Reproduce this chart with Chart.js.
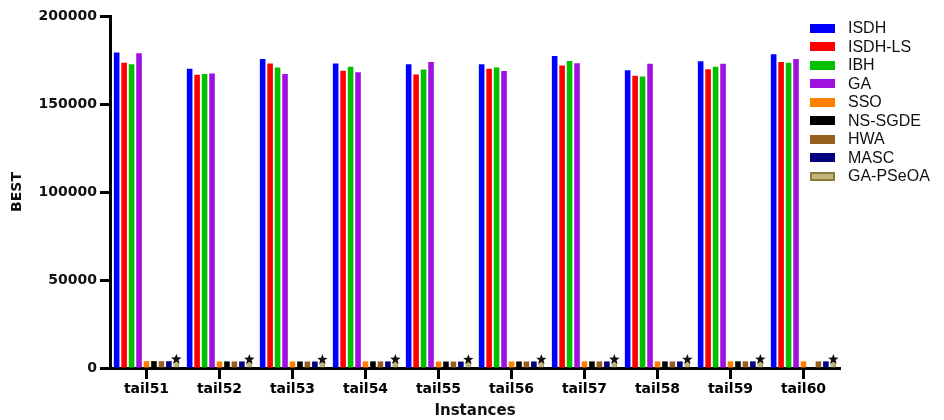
<!DOCTYPE html>
<html>
<head>
<meta charset="utf-8">
<script src="https://cdn.jsdelivr.net/npm/chart.js@4"></script>
<style>
  body { margin: 0; background: #fff; }
  #wrap { position: relative; width: 944px; height: 420px; }
  #legend { position: absolute; left: 810px; top: 19px; font-family: "Liberation Sans", Arial, sans-serif; font-size: 16px; color: #111; }
  #legend div { height: 18.5px; display: flex; align-items: center; white-space: nowrap; }
  #legend span.box { display: inline-block; width: 25px; height: 9px; margin-right: 13px; box-sizing: border-box; }
</style>
</head>
<body>
<div id="wrap">
  <canvas id="barChart" width="944" height="420"></canvas>
  <div id="legend"></div>
</div>
<script>
const instances = ['tail51', 'tail52', 'tail53', 'tail54', 'tail55', 'tail56', 'tail57', 'tail58', 'tail59', 'tail60'];
const yTicks = [0, 50000, 100000, 150000, 200000];

const isdh    = [179200, 170000, 175500, 173000, 172600, 172600, 177300, 169200, 174300, 178300];
const isdhLs  = [173500, 166600, 173000, 168900, 166800, 170000, 171900, 166000, 169800, 173800];
const ibh     = [172600, 167000, 170700, 171200, 169600, 170700, 174500, 165600, 171100, 173500];
const ga      = [178900, 167300, 167100, 168100, 173800, 168800, 173200, 172800, 172800, 175500];
const sso     = [3880, 3740, 3700, 3760, 3660, 3720, 3750, 3740, 3780, 3800];
const nsSgde  = [3900, 3760, 3710, 3770, 3680, 3730, 3760, 3750, 3790, null];
const hwa     = [3870, 3730, 3690, 3750, 3650, 3710, 3740, 3730, 3770, 3790];
const masc    = [3860, 3720, 3680, 3740, 3640, 3700, 3730, 3720, 3760, 3780];
const gaPseoa = [3850, 3704, 3640, 3720, 3610, 3681, 3704, 3691, 3743, 3756];

const series = [
    { label: 'ISDH',     data: isdh,    bg: '#0000ff', border: '#0000ff' },
    { label: 'ISDH-LS',  data: isdhLs,  bg: '#ff0000', border: '#ff0000' },
    { label: 'IBH',      data: ibh,     bg: '#00c000', border: '#00c000' },
    { label: 'GA',       data: ga,      bg: '#a010e0', border: '#a010e0' },
    { label: 'SSO',      data: sso,     bg: '#ff8000', border: '#ff8000' },
    { label: 'NS-SGDE',  data: nsSgde,  bg: '#000000', border: '#000000' },
    { label: 'HWA',      data: hwa,     bg: '#966020', border: '#966020' },
    { label: 'MASC',     data: masc,    bg: '#000080', border: '#000080' },
    { label: 'GA-PSeOA', data: gaPseoa, bg: '#c2b47c', border: '#8c7c3c' }
];

// html legend
const legendEl = document.getElementById('legend');
series.forEach(s => {
    const row = document.createElement('div');
    const box = document.createElement('span');
    box.className = 'box';
    box.style.background = s.bg;
    box.style.border = '2px solid ' + s.border;
    row.appendChild(box);
    row.appendChild(document.createTextNode(s.label));
    legendEl.appendChild(row);
});

// black star on top of the GA-PSeOA bars
const starPlugin = {
    id: 'stars',
    afterDatasetsDraw(chart) {
        const c = chart.ctx;
        const meta = chart.getDatasetMeta(series.length - 1);
        c.save();
        c.fillStyle = '#111';
        meta.data.forEach(bar => {
            const cx = bar.x, cy = bar.y - 2, R = 5.5, r = 2.3;
            c.beginPath();
            for (let i = 0; i < 10; i++) {
                const a = -Math.PI / 2 + i * Math.PI / 5;
                const rad = i % 2 === 0 ? R : r;
                const px = cx + rad * Math.cos(a), py = cy + rad * Math.sin(a);
                if (i === 0) c.moveTo(px, py); else c.lineTo(px, py);
            }
            c.closePath();
            c.fill();
        });
        c.restore();
    }
};

// tick marks under each category centre
const xTickPlugin = {
    id: 'xTicks',
    afterDraw(chart) {
        const c = chart.ctx;
        const x = chart.scales.x;
        const y0 = chart.chartArea.bottom;
        c.save();
        c.fillStyle = '#000';
        for (let i = 0; i < instances.length; i++) {
            const px = x.getPixelForValue(i);
            c.fillRect(Math.round(px) - 2, Math.round(y0), 3, 11);
        }
        c.restore();
    }
};

new Chart(document.getElementById('barChart').getContext('2d'), {
    type: 'bar',
    data: {
        labels: instances,
        datasets: series.map(s => ({
            label: s.label,
            data: s.data,
            backgroundColor: s.bg,
            borderColor: s.border,
            borderWidth: s.label === 'GA-PSeOA' ? 1 : 0
        }))
    },
    options: {
        responsive: false,
        animation: false,
        layout: { padding: { left: 0, right: 104, top: 16, bottom: 0 } },
        plugins: {
            legend: { display: false },
            tooltip: { enabled: false }
        },
        datasets: {
            bar: { categoryPercentage: 0.92, barPercentage: 0.75 }
        },
        scales: {
            x: {
                grid: { drawOnChartArea: false, drawTicks: true, tickLength: 10, tickColor: 'rgba(0,0,0,0)' },
                border: { color: '#000', width: 3 },
                ticks: { color: '#000', font: { family: 'DejaVu Sans', weight: 'bold', size: 14 }, padding: 3, maxRotation: 0 },
                title: { display: true, text: 'Instances', color: '#111', font: { family: 'DejaVu Sans', weight: 'bold', size: 15 }, padding: { top: 0, bottom: 0 } },
                afterFit(scale) { scale.height = 52; }
            },
            y: {
                min: 0,
                max: 200000,
                afterBuildTicks(scale) { scale.ticks = yTicks.map(v => ({ value: v })); },
                grid: { drawOnChartArea: false, drawTicks: true, tickLength: 10, tickWidth: 3, tickColor: '#000' },
                border: { color: '#000', width: 3 },
                ticks: { color: '#111', font: { family: 'DejaVu Sans', weight: 'bold', size: 14 }, padding: 3, callback: v => String(v) },
                title: { display: true, text: 'BEST', color: '#111', font: { family: 'DejaVu Sans', weight: 'bold', size: 14 }, padding: { top: 9, bottom: 0 } },
                afterFit(scale) { scale.width = 110; }
            }
        }
    },
    plugins: [starPlugin, xTickPlugin]
});
</script>
</body>
</html>
